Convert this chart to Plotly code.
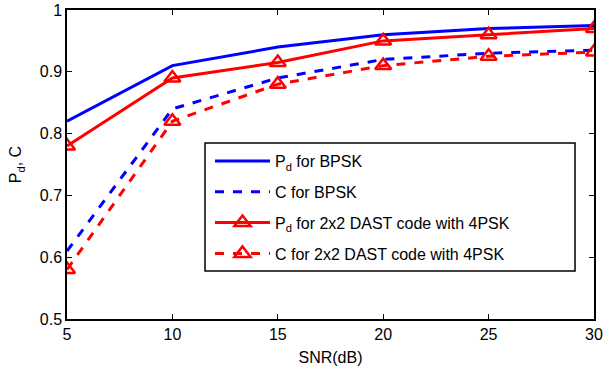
import plotly.graph_objects as go

snr = [5, 10, 15, 20, 25, 30]
pd_bpsk = [0.82, 0.91, 0.94, 0.96, 0.97, 0.975]
c_bpsk = [0.61, 0.84, 0.89, 0.92, 0.93, 0.935]
pd_dast = [0.78, 0.89, 0.915, 0.95, 0.96, 0.97]
c_dast = [0.58, 0.82, 0.88, 0.91, 0.925, 0.932]

x_ticks = [5, 10, 15, 20, 25, 30]
y_ticks = [0.5, 0.6, 0.7, 0.8, 0.9, 1]
y_labels = ["0.5", "0.6", "0.7", "0.8", "0.9", "1"]

FONT = "Liberation Sans"

fig = go.Figure()
fig.add_trace(go.Scatter(x=snr, y=pd_bpsk, mode="lines", name="P<sub>d</sub> for BPSK",
                         legendgroup="g1",
                         line=dict(color="#0000ff", width=3)))
fig.add_trace(go.Scatter(x=snr, y=c_bpsk, mode="lines", name="C for BPSK",
                         legendgroup="g2",
                         line=dict(color="#0000ff", width=3, dash="dash")))
fig.add_trace(go.Scatter(x=snr, y=pd_dast, mode="lines+markers",
                         name="P<sub>d</sub> for 2x2 DAST code with 4PSK",
                         legendgroup="g3",
                         line=dict(color="#ff0000", width=3),
                         marker=dict(symbol="triangle-up-open", size=14, color="#ff0000",
                                     line=dict(width=2.5, color="#ff0000"))))
fig.add_trace(go.Scatter(x=snr, y=c_dast, mode="lines+markers",
                         name="C for 2x2 DAST code with 4PSK",
                         legendgroup="g4",
                         line=dict(color="#ff0000", width=3, dash="dash"),
                         marker=dict(symbol="triangle-up-open", size=14, color="#ff0000",
                                     line=dict(width=2.5, color="#ff0000"))))

axis_common = dict(showline=True, linecolor="black", linewidth=1.5, mirror="ticks",
                   ticks="inside", ticklen=5, tickcolor="black", showgrid=False,
                   zeroline=False, automargin=False, ticklabeloverflow="allow",
                   tickfont=dict(family=FONT, size=16, color="black"))

# legend frame (MATLAB-style wide box)
fig.add_shape(type="rect", xref="paper", yref="paper",
              x0=0.2619, x1=0.964, y0=0.1553, y1=0.5696,
              line=dict(color="black", width=1.5), fillcolor="white", layer="above")

fig.update_layout(
    width=603, height=366,
    margin=dict(l=67, r=9, t=10, b=47),
    plot_bgcolor="white", paper_bgcolor="white",
    font=dict(family=FONT, color="black"),
    xaxis=dict(range=[5, 30], tickvals=x_ticks,
               title=dict(text="SNR(dB)", font=dict(family=FONT, size=16), standoff=10),
               **axis_common),
    yaxis=dict(range=[0.5, 1], tickvals=y_ticks, ticktext=y_labels,
               title=dict(text="P<sub>d</sub>, C", font=dict(family=FONT, size=16), standoff=14),
               **axis_common),
    legend=dict(x=0.2713, y=0.566, xanchor="left", yanchor="top",
                bgcolor="rgba(0,0,0,0)", borderwidth=0,
                font=dict(family=FONT, size=16, color="black"), itemwidth=55,
                tracegroupgap=7, groupclick="toggleitem"),
    showlegend=True,
)

fig.write_html("out.html", config={"displayModeBar": False},
               post_script="document.body.style.margin='0';document.body.style.overflow='hidden';")
